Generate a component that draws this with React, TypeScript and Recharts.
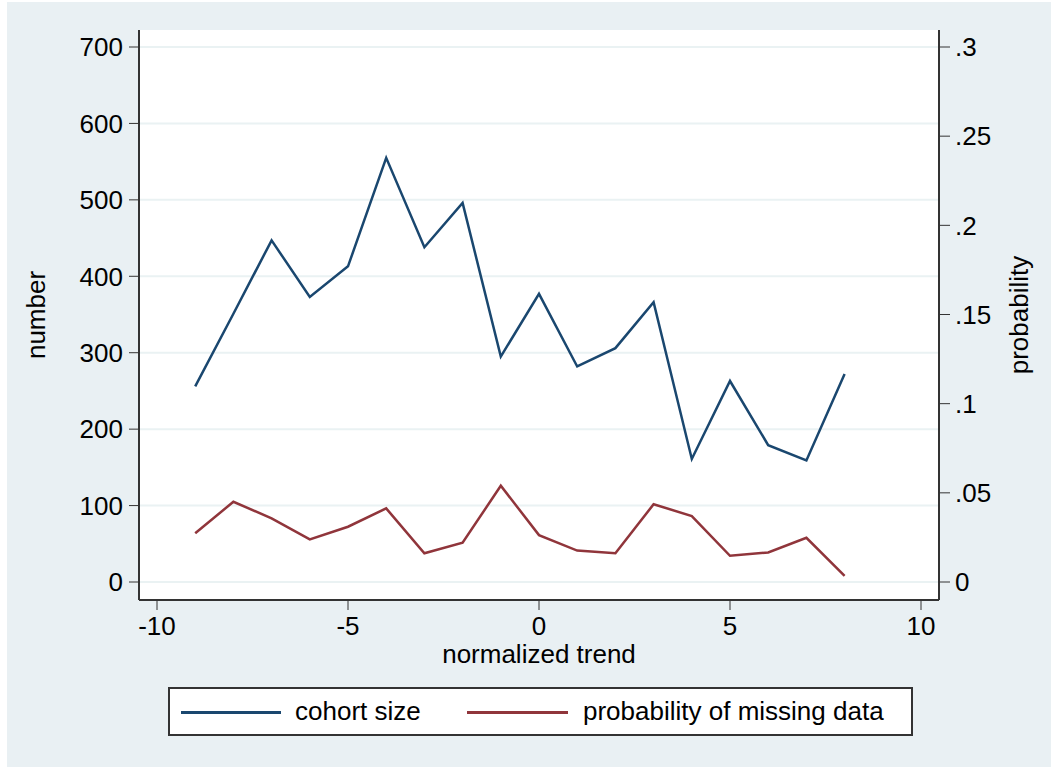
import React from 'react';
import {
    LineChart,
    Line,
    XAxis,
    YAxis,
    CartesianGrid,
} from 'recharts';

const trend = [-9, -8, -7, -6, -5, -4, -3, -2, -1, 0, 1, 2, 3, 4, 5, 6, 7, 8];
const cohortSize = [256, 351, 447, 373, 413, 555, 438, 496, 295, 377, 282, 306, 366, 161, 263, 179, 159, 272];
const probMissing = [
    0.0273, 0.045, 0.0357, 0.0239, 0.031, 0.0413, 0.0161, 0.022, 0.054, 0.0263,
    0.0176, 0.0161, 0.0436, 0.037, 0.0147, 0.0166, 0.0248, 0.0034,
];
const xTicks = [-10, -5, 0, 5, 10];
const leftTicks = [0, 100, 200, 300, 400, 500, 600, 700];
const rightTicks = [0, 0.05, 0.1, 0.15, 0.2, 0.25, 0.3];

const BLUE = '#1a476f';
const RED = '#90353b';
const BG = '#e9f0f3';
const FONT = '"Liberation Sans", Arial, sans-serif';
const FS = 26;

const data = trend.map((t, i) => ({ t, cohort: cohortSize[i], prob: probMissing[i] }));

const fmtProb = (v: number) => (v === 0 ? '0' : String(v).replace(/^0/, ''));

const tickStyle = { fill: '#000', fontSize: FS, fontFamily: FONT };
const labelStyle = { fill: '#000', fontSize: FS, fontFamily: FONT, textAnchor: 'middle' as const };

const App: React.FC = () => {
    return (
        <div style={{ position: 'absolute', left: 0, top: 0, width: 1051, height: 767, background: '#fff', overflow: 'hidden' }}>
            <div style={{ position: 'absolute', left: 7, top: 2, width: 1044, height: 765, background: BG }} />
            <div style={{ position: 'absolute', left: 0, top: 0 }}>
                <LineChart width={1051} height={767} data={data} margin={{ top: 30, right: 0, bottom: 107, left: 0 }}>
                    <CartesianGrid
                        yAxisId="left"
                        vertical={false}
                        horizontal
                        fill="#fff"
                        stroke="#eaf2f3"
                        strokeWidth={2}
                        horizontalValues={leftTicks}
                    />
                    <XAxis
                        dataKey="t"
                        type="number"
                        domain={[-10, 10]}
                        ticks={xTicks}
                        padding={{ left: 18, right: 18 }}
                        height={60}
                        tickSize={10}
                        tickMargin={7}
                        tick={tickStyle}
                        stroke="#333"
                        axisLine={{ stroke: '#333', strokeWidth: 2 }}
                        label={{ value: 'normalized trend', position: 'center', dy: 24, style: labelStyle }}
                    />
                    <YAxis
                        yAxisId="left"
                        orientation="left"
                        width={139}
                        domain={[0, 700]}
                        ticks={leftTicks}
                        padding={{ top: 17, bottom: 18 }}
                        tickSize={10}
                        tickMargin={6}
                        tick={tickStyle}
                        stroke="#333"
                        axisLine={{ stroke: '#333', strokeWidth: 2 }}
                        label={{ value: 'number', angle: -90, position: 'center', dx: -34, style: labelStyle }}
                    />
                    <YAxis
                        yAxisId="right"
                        orientation="right"
                        width={112}
                        domain={[0, 0.3]}
                        ticks={rightTicks}
                        tickFormatter={fmtProb}
                        padding={{ top: 17, bottom: 18 }}
                        tickSize={11}
                        tickMargin={5}
                        tick={tickStyle}
                        stroke="#333"
                        axisLine={{ stroke: '#333', strokeWidth: 2 }}
                        label={{ value: 'probability', angle: -90, position: 'center', dx: 24, style: labelStyle }}
                    />
                    <Line
                        yAxisId="left"
                        type="linear"
                        dataKey="cohort"
                        stroke={BLUE}
                        strokeWidth={2.5}
                        dot={false}
                        isAnimationActive={false}
                    />
                    <Line
                        yAxisId="right"
                        type="linear"
                        dataKey="prob"
                        stroke={RED}
                        strokeWidth={2.5}
                        dot={false}
                        isAnimationActive={false}
                    />
                </LineChart>
            </div>
            {/* legend box, drawn as html below the plot */}
            <div
                style={{
                    position: 'absolute',
                    left: 168,
                    top: 687,
                    width: 741,
                    height: 45,
                    background: '#fff',
                    border: '2px solid #333',
                    fontFamily: FONT,
                    fontSize: FS,
                    color: '#000',
                }}
            >
                <div style={{ position: 'absolute', left: 11, top: 22, width: 100, height: 2.5, background: BLUE }} />
                <div style={{ position: 'absolute', left: 125, top: 7, whiteSpace: 'nowrap', lineHeight: '30px' }}>cohort size</div>
                <div style={{ position: 'absolute', left: 297, top: 22, width: 101, height: 2.5, background: RED }} />
                <div style={{ position: 'absolute', left: 413, top: 7, whiteSpace: 'nowrap', lineHeight: '30px' }}>probability of missing data</div>
            </div>
        </div>
    );
};

export default App;
